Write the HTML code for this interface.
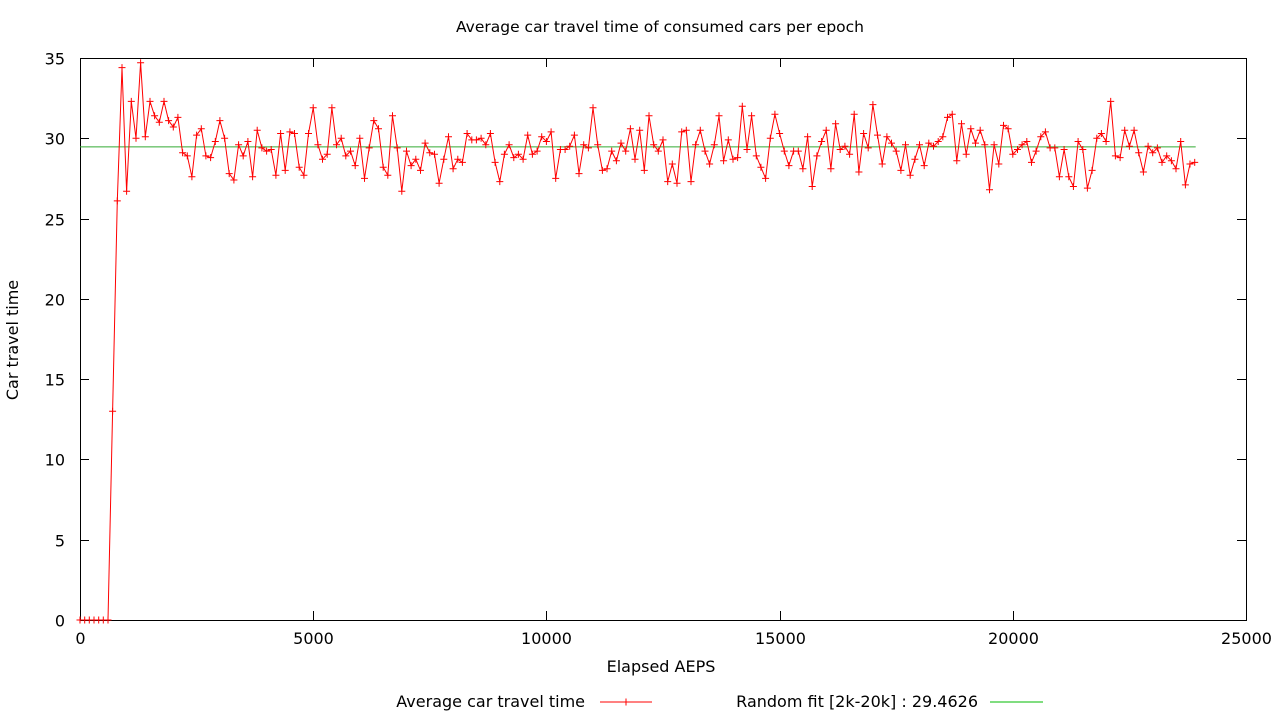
<!DOCTYPE html>
<html><head><meta charset="utf-8"><style>
body{margin:0;background:#fff;}
svg{display:block;font-family:"DejaVu Sans","Liberation Sans",sans-serif;}
</style></head><body>
<svg id="chart" width="1280" height="720" xmlns="http://www.w3.org/2000/svg">
<rect width="1280" height="720" fill="#fff"/>
<text x="660" y="32" font-size="15.5" text-anchor="middle" fill="#000">Average car travel time of consumed cars per epoch</text>
<text x="18" y="340" font-size="16" text-anchor="middle" transform="rotate(-90 18 340)">Car travel time</text>
<text x="661" y="672" font-size="16" text-anchor="middle">Elapsed AEPS</text>
<g id="axes"></g>
<g id="plot"></g>
<g>
<text x="585" y="707" font-size="16" text-anchor="end">Average car travel time</text>
<line x1="600" y1="702" x2="652" y2="702" stroke="#f00" stroke-width="1"/>
<path d="M622.5 702h7M626 698.5v7" stroke="#f00" stroke-width="1"/>
<text x="978" y="707" font-size="16" text-anchor="end">Random fit [2k-20k] : 29.4626</text>
<line x1="990" y1="702" x2="1043" y2="702" stroke="#0b0" stroke-width="1"/>
</g>
</svg>
<script>
const xTicks=[0,5000,10000,15000,20000,25000];
const yTicks=[0,5,10,15,20,25,30,35];
const fitValue=29.4626;
const xStart=0;
const xStep=100;
const values=[0,0,0,0,0,0,0,13,26.1,34.4,26.7,32.3,30,34.7,30.1,32.3,31.4,31,32.3,31.1,30.7,31.3,29.1,28.9,27.6,30.2,30.6,28.9,28.8,29.8,31.1,30,27.8,27.4,29.6,28.9,29.8,27.6,30.5,29.4,29.2,29.3,27.7,30.3,28,30.4,30.3,28.2,27.7,30.3,31.9,29.6,28.7,29,31.9,29.6,30,28.9,29.2,28.3,30,27.5,29.4,31.1,30.6,28.2,27.7,31.4,29.4,26.7,29.2,28.3,28.7,28,29.7,29.1,29,27.2,28.7,30.1,28.1,28.7,28.5,30.3,29.9,29.9,30,29.6,30.3,28.5,27.3,29,29.6,28.8,29,28.7,30.2,29,29.2,30.1,29.8,30.4,27.5,29.3,29.3,29.5,30.2,27.8,29.6,29.4,31.9,29.6,28,28.1,29.2,28.6,29.7,29.2,30.6,28.7,30.5,28,31.4,29.6,29.2,29.9,27.3,28.4,27.2,30.4,30.5,27.3,29.6,30.5,29.2,28.4,29.6,31.4,28.6,29.9,28.7,28.8,32,29.3,31.4,28.9,28.2,27.5,30,31.5,30.3,29.2,28.3,29.2,29.2,28.1,30.1,27,28.9,29.8,30.5,28.1,30.9,29.3,29.5,29,31.5,27.9,30.3,29.4,32.1,30.2,28.4,30.1,29.7,29.2,28,29.6,27.7,28.7,29.6,28.3,29.7,29.5,29.8,30.1,31.3,31.5,28.6,30.9,29,30.6,29.7,30.5,29.6,26.8,29.6,28.4,30.8,30.6,29,29.3,29.6,29.8,28.5,29.2,30.1,30.4,29.4,29.4,27.6,29.3,27.6,27,29.8,29.3,26.9,28,30,30.3,29.8,32.3,28.9,28.8,30.5,29.5,30.5,29.1,27.9,29.5,29.1,29.4,28.5,28.9,28.6,28.1,29.8,27.1,28.4,28.5];

const NS="http://www.w3.org/2000/svg";
const L=80,R=1246,T=58,B=620,xMax=25000,yMax=35;
const sx=v=>L+(v/xMax)*(R-L);
const sy=v=>B-(v/yMax)*(B-T);
function mk(tag,attrs,parent){const e=document.createElementNS(NS,tag);for(const k in attrs)e.setAttribute(k,attrs[k]);parent.appendChild(e);return e;}
const axes=document.getElementById('axes'),plot=document.getElementById('plot');
const frame=mk('rect',{x:L+0.5,y:T+0.5,width:R-L,height:B-T,fill:'none',stroke:'#000','stroke-width':1},axes);


xTicks.forEach(t=>{
  const x=Math.round(sx(t))+0.5;
  mk('path',{d:`M${x} ${B}v-9M${x} ${T}v9`,stroke:'#000'},axes);
  const tx=mk('text',{x:x,y:B+24,'font-size':16,'text-anchor':'middle'},axes);
  tx.textContent=t;
  
  
});
yTicks.forEach(t=>{
  const y=Math.round(sy(t))+0.5;
  mk('path',{d:`M${L} ${y}h9M${R} ${y}h-9`,stroke:'#000'},axes);
  const tx=mk('text',{x:L-15,y:y+6,'font-size':16,'text-anchor':'end'},axes);
  tx.textContent=t;
  
  
});
const lastX=xStart+(values.length-1)*xStep;
const fit=mk('line',{x1:L,x2:sx(lastX)+1,y1:sy(fitValue),y2:sy(fitValue),stroke:'#3a3','stroke-width':1},plot);


const pts=values.map((v,i)=>[sx(xStart+i*xStep),sy(v)]);
const line=mk('polyline',{points:pts.map(p=>p[0].toFixed(1)+','+p[1].toFixed(1)).join(' '),fill:'none',stroke:'#f00','stroke-width':1},plot);


let d='';
pts.forEach(p=>{d+=`M${(p[0]-3.5).toFixed(1)} ${p[1].toFixed(1)}h7M${p[0].toFixed(1)} ${(p[1]-3.5).toFixed(1)}v7`;});
const marks=mk('path',{d:d,stroke:'#f00','stroke-width':1,fill:'none'},plot);


</script>
</body></html>
